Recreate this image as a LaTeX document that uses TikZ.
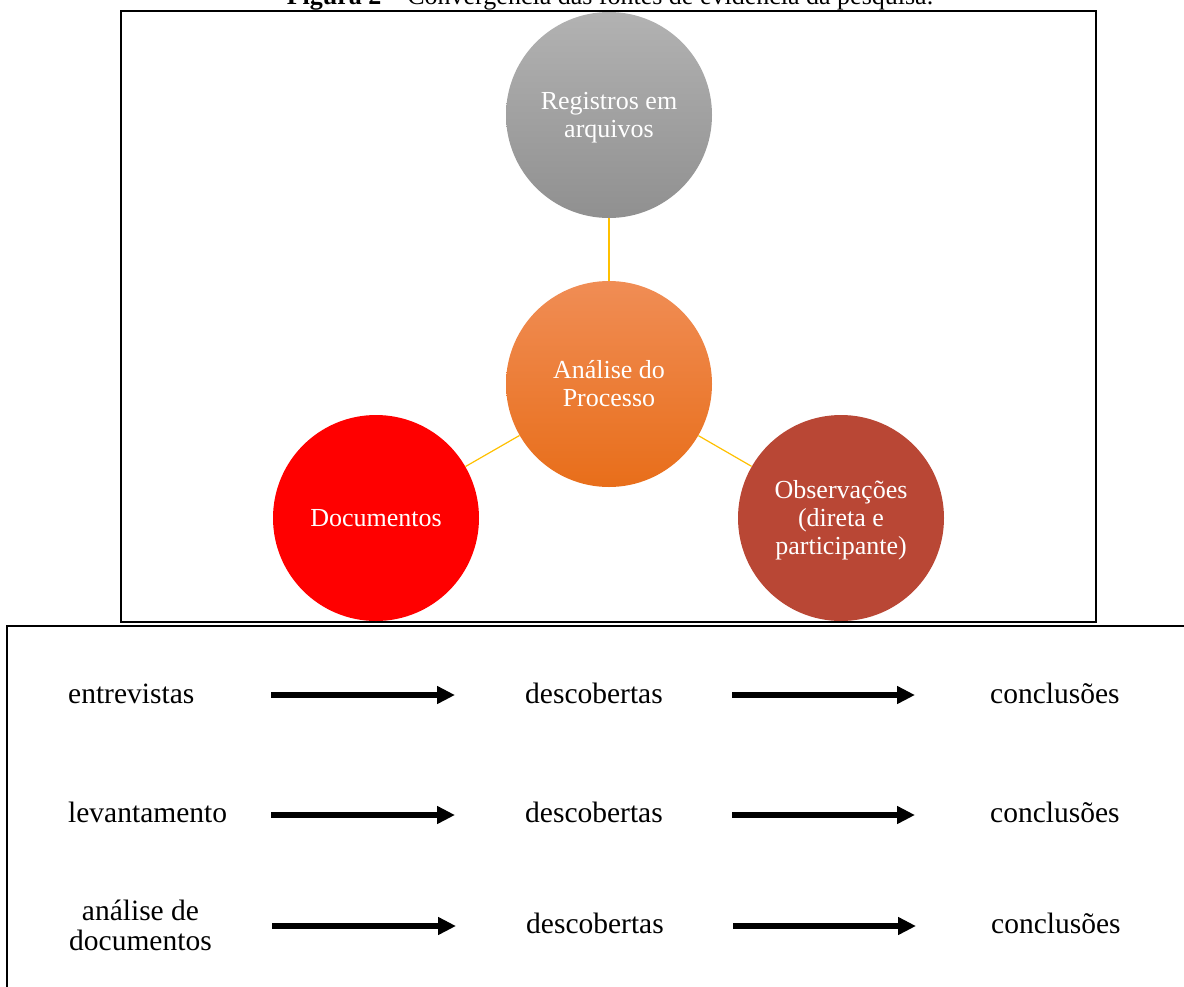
\documentclass[tikz,border=0pt]{standalone}
\usepackage{fontspec}
\setmainfont{Liberation Serif}
\usetikzlibrary{positioning, arrows.meta, shapes}

\definecolor{greytop}{HTML}{B2B2B2}
\definecolor{greybot}{HTML}{909090}
\definecolor{orangetop}{HTML}{F08D55}
\definecolor{orangebot}{HTML}{E86E1A}
\definecolor{docred}{HTML}{FF0000}
\definecolor{obsred}{HTML}{B94735}
\definecolor{linkyellow}{HTML}{FFC000}

\begin{document}
\begin{tikzpicture}[x=1pt, y=-1pt,
        bubble/.style={circle, minimum size=206pt, inner sep=0pt, text=white,
            align=center, font=\fontsize{26}{28}\selectfont},
        bubbletext/.style={text=white, align=center, font=\fontsize{26}{28}\selectfont},
        link/.style={draw=linkyellow, line width=1.2pt},
        word/.style={inner sep=0pt, font=\fontsize{29.5}{30}\selectfont},
        fat/.style={line width=6.5pt, -{Triangle[length=18pt, width=17pt]}}]
                \useasboundingbox (0, 0) rectangle (1184, 986);
                \clip (0, 0) rectangle (1184, 986);

                % caption, cut at the top edge
                \node[anchor=base, inner sep=0pt, font=\fontsize{26}{28}\selectfont] (CAP) at (610, 4)
                    {\textbf{Figura 2} – Convergência das fontes de evidência da pesquisa.};

                % upper frame: the four sources
                \draw[line width=2pt] (121, 11) rectangle (1096, 622);
                \node[bubble, top color=greytop, bottom color=greybot] (RA) at (609, 115) {};
                \node[bubbletext] (RAL) at (609, 117.5) {Registros em\\arquivos};
                \node[bubble, top color=orangetop, bottom color=orangebot] (AP) at (609, 384) {Análise do\\Processo};
                \node[bubble, fill=docred] (DO) at (376, 518) {Documentos};
                \node[bubble, fill=obsred] (OB) at (841, 518) {};
                \node[bubbletext] (OBL) at (841, 520.5) {Observações\\(direta e\\participante)};

                \draw[link] (RA) -- (AP);
                \draw[link] (AP) -- (DO);
                \draw[link] (AP) -- (OB);

                % lower frame: the three chains
                \draw[line width=2pt] (7, 1000) -- (7, 626) -- (1200, 626);

                \node[word, anchor=base west] (EN) at (68, 703) {entrevistas};
                \node[word, anchor=base west] (D1) at (525, 703) {descobertas};
                \node[word, anchor=base west] (C1) at (990, 703) {conclusões};

                \node[word, anchor=base west] (LE) at (68, 822) {levantamento};
                \node[word, anchor=base west] (D2) at (525, 822) {descobertas};
                \node[word, anchor=base west] (C2) at (990, 822) {conclusões};

                \node[word, anchor=south west, align=center] (AD) at (69, 951) {análise de\\documentos};
                \node[word, anchor=base west] (D3) at (526, 933) {descobertas};
                \node[word, anchor=base west] (C3) at (991, 933) {conclusões};

                \coordinate (T1) at (271, 695);  \coordinate (H1) at (455, 695);
                \coordinate (T2) at (732, 695);  \coordinate (H2) at (915, 695);
                \coordinate (T3) at (271, 815);  \coordinate (H3) at (455, 815);
                \coordinate (T4) at (732, 815);  \coordinate (H4) at (915, 815);
                \coordinate (T5) at (272, 926);  \coordinate (H5) at (456, 926);
                \coordinate (T6) at (733, 926);  \coordinate (H6) at (916, 926);

                \draw[fat] (T1) -- (H1);
                \draw[fat] (T2) -- (H2);
                \draw[fat] (T3) -- (H3);
                \draw[fat] (T4) -- (H4);
                \draw[fat] (T5) -- (H5);
                \draw[fat] (T6) -- (H6);
            \end{tikzpicture}
\end{document}
